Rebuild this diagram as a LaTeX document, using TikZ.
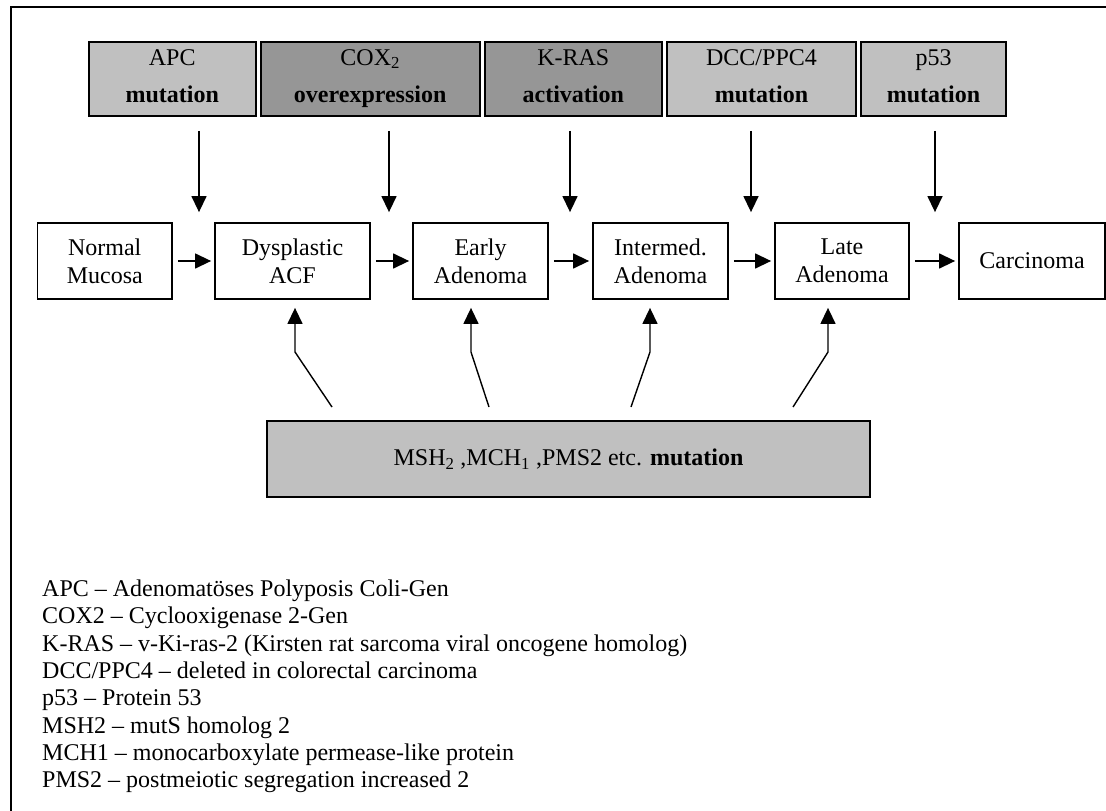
\documentclass[tikz,border=0pt]{standalone}
\usepackage{fontspec}
\setmainfont{Liberation Serif}
\usetikzlibrary{arrows.meta,calc}
\definecolor{lightg}{RGB}{192,192,192}
\definecolor{darkg}{RGB}{150,150,150}
\newcommand{\glabel}[2]{\rule{0pt}{16pt}#1\\[10pt]\textbf{#2}\rule[-6pt]{0pt}{6pt}}
\begin{document}
\begin{tikzpicture}[x=1pt,y=-1pt,
  every node/.style={font=\fontsize{24}{27.6}\selectfont},
  stage/.style={draw, line width=1.8pt, minimum height=76pt, inner sep=0pt, align=center},
  gene/.style={draw, line width=1.8pt, minimum height=74pt, inner sep=0pt, align=center},
  arr/.style={line width=1.4pt, -{Triangle[length=16pt,width=15pt]}},
  legend/.style={anchor=base west, inner sep=0pt}]
\useasboundingbox (0,0) rectangle (1106,811);
\draw[line width=2pt] (11,815) -- (11,7) -- (1110,7);

% gene event boxes
\node[gene, fill=lightg, minimum width=167pt]   (apc)  at (172.2,78.9) {\glabel{APC}{mutation}};
\node[gene, fill=darkg,  minimum width=219pt]   (cox)  at (370.2,78.9) {\glabel{COX\textsubscript{2}}{overexpression}};
\node[gene, fill=darkg,  minimum width=177.4pt] (kras) at (573.3,78.9) {\glabel{K-RAS}{activation}};
\node[gene, fill=lightg, minimum width=189pt]   (dcc)  at (761.5,78.9) {\glabel{DCC/PPC4}{mutation}};
\node[gene, fill=lightg, minimum width=145pt]   (p53)  at (933.5,78.9) {\glabel{p53}{mutation}};

% stages
\node[stage, minimum width=134.5pt] (nm)  at (104.75,261) {Normal\\Mucosa};
\node[stage, minimum width=155pt]   (dys) at (292.5,261)  {Dysplastic\\ACF};
\node[stage, minimum width=135pt]   (ea)  at (480.5,261)  {Early\\Adenoma};
\node[stage, minimum width=135pt]   (ia)  at (660.5,261)  {Intermed.\\Adenoma};
\node[stage, minimum width=134pt]   (la)  at (842,261)    {Late\\Adenoma};
\node[stage, minimum width=146pt]   (ca)  at (1032,261)   {Carcinoma};

% mismatch repair box
\node[gene, fill=lightg, minimum width=603pt, minimum height=76pt] (msh) at (568.5,459)
  {MSH\textsubscript{2} ,MCH\textsubscript{1} ,PMS2 etc. \textbf{mutation}};

% horizontal progression arrows
\foreach \a/\b in {nm/dys, dys/ea, ea/ia, ia/la, la/ca}
  \draw[arr, shorten <=5pt, shorten >=3pt] (\a) -- (\b);

% downward arrows
\coordinate (xa) at (199,0);
\coordinate (xc) at (389,0);
\coordinate (xk) at (570,0);
\coordinate (xd) at (751,0);
\coordinate (xp) at (935,0);
\draw[arr, shorten <=14pt, shorten >=10pt] (xa |- apc.south)  -- (xa |- dys.north);
\draw[arr, shorten <=14pt, shorten >=10pt] (xc |- cox.south)  -- (xc |- ea.north);
\draw[arr, shorten <=14pt, shorten >=10pt] (xk |- kras.south) -- (xk |- ia.north);
\draw[arr, shorten <=14pt, shorten >=10pt] (xd |- dcc.south)  -- (xd |- la.north);
\draw[arr, shorten <=14pt, shorten >=10pt] (xp |- p53.south)  -- (xp |- ca.north);

% upward arrows from mismatch repair box
\coordinate (b1) at (332,407); \coordinate (k1) at (295,352);
\coordinate (b2) at (489,407); \coordinate (k2) at (471,352);
\coordinate (b3) at (631,407); \coordinate (k3) at (650,352);
\coordinate (b4) at (793,407); \coordinate (k4) at (828,352);
\draw[arr, shorten >=8pt] (b1) -- (k1) -- (k1 |- dys.south);
\draw[arr, shorten >=8pt] (b2) -- (k2) -- (k2 |- ea.south);
\draw[arr, shorten >=8pt] (b3) -- (k3) -- (k3 |- ia.south);
\draw[arr, shorten >=8pt] (b4) -- (k4) -- (k4 |- la.south);

% legend
\foreach \t [count=\i from 0] in {
  {APC – Adenomatöses Polyposis Coli-Gen},
  {COX2 – Cyclooxigenase 2-Gen},
  {K-RAS – v-Ki-ras-2 (Kirsten rat sarcoma viral oncogene homolog)},
  {DCC/PPC4 – deleted in colorectal carcinoma},
  {p53 – Protein 53},
  {MSH2 – mutS homolog 2},
  {MCH1 – monocarboxylate permease-like protein},
  {PMS2 – postmeiotic segregation increased 2}}
  \node[legend] (leg\i) at (42,{596.5+\i*27.3}) {\t};
\end{tikzpicture}
\end{document}
